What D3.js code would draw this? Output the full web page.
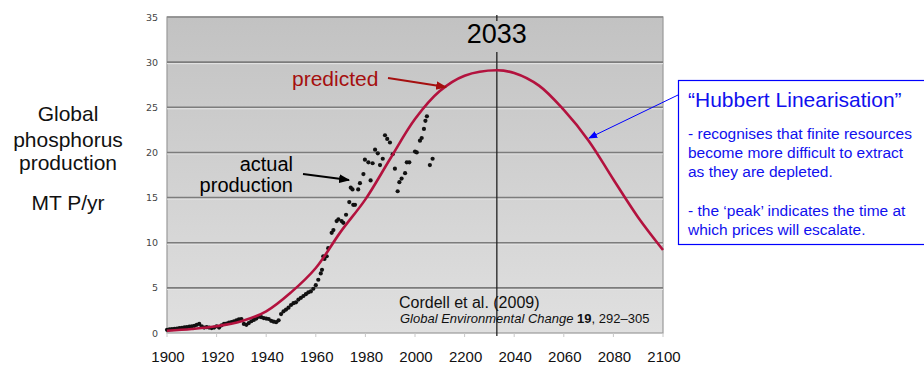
<!DOCTYPE html>
<html><head><meta charset="utf-8">
<script src="https://cdn.jsdelivr.net/npm/d3@7"></script>
<style>body{margin:0;background:#fff;} svg{display:block;font-family:"Liberation Sans",Arial,sans-serif;}</style>
</head><body>
<svg id="chart" width="924" height="365"></svg>
<script>
// ---- data ----
const curveYears  = [1900,1910,1920,1930,1940,1950,1960,1970,1980,1990,2000,2010,2020,2033,2040,2050,2060,2070,2080,2090,2100];
const curveValues = [0.25,0.45,0.75,1.3,2.4,4.5,7.2,11.2,14.8,19.3,23.7,26.8,28.5,29.1,28.8,27.4,24.7,21.3,17.0,12.8,9.2];

const prodYears = [1900,1901,1902,1903,1904,1905,1906,1907,1908,1909,1910,1911,1912,1913,1914,1915,1916,1917,1918,1919,
  1920,1921,1922,1923,1924,1925,1926,1927,1928,1929,1930,1931,1932,1933,1934,1935,1936,1937,1938,1939,
  1940,1941,1942,1943,1944,1945,1946,1947,1948,1949,1950,1951,1952,1953,1954,1955,1956,1957,1958,1959,
  1960,1961,1962,1962.5,1963,1963.5,1964.4,1965,1966.4,1967.1,1968.4,1969.1,1970.4,1971.1,1972.2,1973.5,1974.1,1974.8,1975.1,1975.8,
  1977.1,1977.8,1979.2,1979.8,1981.2,1982.1,1982.9,1983.9,1985,1985.9,1987,1987.9,1988.8,1989.9,1991,1991.9,1993,1993.7,1994.6,1996,
  1996.7,1997.7,2000,2000.7,2002,2002.7,2003.6,2004.2,2004.8,2006,2007.1];
const prodValues = [0.35,0.4,0.42,0.45,0.5,0.55,0.58,0.62,0.65,0.7,0.75,0.8,0.9,1.0,0.75,0.6,0.65,0.6,0.55,0.6,
  0.75,0.6,0.85,1.0,1.05,1.15,1.2,1.3,1.4,1.5,1.55,1.0,0.9,1.1,1.3,1.45,1.6,1.8,1.75,1.65,
  1.6,1.55,1.35,1.25,1.2,1.4,2.1,2.4,2.6,2.8,3.1,3.3,3.4,3.7,3.9,4.1,4.3,4.5,4.6,4.9,
  5.3,5.9,6.6,7.0,8.5,8.2,8.5,9.4,11.1,11.4,12.4,12.6,12.4,12.2,13.1,14.5,16.1,15.9,14.2,14.2,
  15.9,16.6,17.6,19.2,18.9,16.9,18.8,20.3,19.9,18.6,19.3,21.9,21.5,21.1,19.8,18.2,15.7,16.7,17.1,17.7,
  18.9,18.9,20.1,20.0,21.3,21.6,22.6,23.5,24.0,18.6,19.3];

const yTicks = [0,5,10,15,20,25,30,35];
const xTickLabels = ["1900","1920","1940","1960","1980","2000","2200","2040","2060","2080","2100"];
const peakYear = 2033;

// ---- layout ----
const svg = d3.select("#chart");
const x = d3.scaleLinear().domain([1900,2100]).range([167,663]);
const y = d3.scaleLinear().domain([0,35]).range([333,17]);
const xl = d3.scalePoint().domain(xTickLabels).range([168,664]);

const defs = svg.append("defs");
const grad = defs.append("linearGradient").attr("id","bg").attr("gradientUnits","userSpaceOnUse")
  .attr("x1",0).attr("y1",17).attr("x2",0).attr("y2",333);
grad.append("stop").attr("offset","0%").attr("stop-color","#c2c2c2");
grad.append("stop").attr("offset","100%").attr("stop-color","#e0e0e0");

function marker(id,color,size){
  defs.append("marker").attr("id",id).attr("viewBox","0 0 10 10").attr("refX",9).attr("refY",5)
    .attr("markerUnits","userSpaceOnUse").attr("markerWidth",size).attr("markerHeight",size)
    .attr("orient","auto").append("path").attr("d","M0,1 L10,5 L0,9 Z").attr("fill",color);
}
marker("arRed","#a50f0f",11);
marker("arBlack","#000",11);
marker("arBlue","#0000ff",9);

// plot background
svg.append("rect").attr("x",x(1900)).attr("y",y(35)).attr("width",x(2100)-x(1900)).attr("height",y(0)-y(35))
  .attr("fill","url(#bg)").attr("stroke","#9a9a9a").attr("stroke-width",1.2);

// gridlines
const g = svg.append("g");
g.selectAll("line.hl").data(yTicks.filter(d=>d>0&&d<35)).join("line").attr("class","hl")
  .attr("x1",x(1900)).attr("x2",x(2100)).attr("y1",d=>y(d)+1.5).attr("y2",d=>y(d)+1.5)
  .attr("stroke","#e6e6e6").attr("stroke-width",1);
g.selectAll("line.gl").data(yTicks.filter(d=>d>0&&d<35)).join("line").attr("class","gl")
  .attr("x1",x(1900)).attr("x2",x(2100)).attr("y1",d=>y(d)).attr("y2",d=>y(d))
  .attr("stroke","#7c7c7c").attr("stroke-width",1.6);
svg.append("line").attr("x1",x(1900)).attr("x2",x(2100)).attr("y1",y(35)).attr("y2",y(35))
  .attr("stroke","#8a8a8a").attr("stroke-width",1.5);

// y axis labels
const yAxis = d3.axisLeft(y).tickValues(yTicks).tickSize(0).tickPadding(9);
const ya = svg.append("g").attr("transform",`translate(${x(1900)},0)`).call(yAxis);
ya.select(".domain").remove();
ya.selectAll("text").attr("fill","#444").attr("font-family","'DejaVu Sans',sans-serif").attr("font-size",9.5);

// bottom small ticks
svg.selectAll("line.bt").data(d3.range(1900,2101,20)).join("line").attr("class","bt")
  .attr("x1",d=>x(d)).attr("x2",d=>x(d)).attr("y1",y(0)).attr("y2",y(0)+4)
  .attr("stroke","#c8c8c8").attr("stroke-width",1);

// x tick labels (slide text)
svg.selectAll("text.xl").data(xTickLabels).join("text").attr("class","xl")
  .attr("x",d=>xl(d)).attr("y",362).attr("text-anchor","middle").attr("font-size",15).attr("fill","#111").text(d=>d);

// 2033 vertical line
svg.append("line").attr("x1",x(peakYear)).attr("x2",x(peakYear)).attr("y1",15).attr("y2",336)
  .attr("stroke","#222").attr("stroke-width",1.3);
svg.append("rect").attr("x",x(peakYear)-36).attr("y",21).attr("width",72).attr("height",31).attr("fill","url(#bg)");
svg.append("text").attr("x",x(peakYear)).attr("y",43).attr("text-anchor","middle").attr("font-size",27)
  .attr("fill","#000").text(String(peakYear));

// actual production dots
svg.append("g").selectAll("circle").data(prodYears.map((d,i)=>[d,prodValues[i]])).join("circle")
  .attr("cx",d=>x(d[0])).attr("cy",d=>y(d[1])).attr("r",2.1).attr("fill","#111");

// predicted curve
const line = d3.line().x(d=>x(d[0])).y(d=>y(d[1])).curve(d3.curveCatmullRom.alpha(0.5));
svg.append("path").datum(curveYears.map((d,i)=>[d,curveValues[i]])).attr("d",line)
  .attr("fill","none").attr("stroke","#b3123e").attr("stroke-width",2.6);

// annotations
svg.append("text").attr("x",292).attr("y",86).attr("font-size",21).attr("fill","#a50f0f").text("predicted");
svg.append("line").attr("x1",388).attr("y1",78).attr("x2",446).attr("y2",87)
  .attr("stroke","#a50f0f").attr("stroke-width",2).attr("marker-end","url(#arRed)");

svg.append("text").attr("x",293).attr("y",171).attr("text-anchor","end").attr("font-size",20).attr("fill","#000").text("actual");
svg.append("text").attr("x",293).attr("y",192).attr("text-anchor","end").attr("font-size",20).attr("fill","#000").text("production");
svg.append("line").attr("x1",303).attr("y1",174).attr("x2",349).attr("y2",180)
  .attr("stroke","#000").attr("stroke-width",2).attr("marker-end","url(#arBlack)");

svg.append("text").attr("x",399).attr("y",308).attr("font-size",16).attr("fill","#111").text("Cordell et al. (2009)");
const cit = svg.append("text").attr("x",400).attr("y",323).attr("font-size",13).attr("fill","#111");
cit.append("tspan").attr("font-style","italic").text("Global Environmental Change ");
cit.append("tspan").attr("font-weight","bold").text("19");
cit.append("tspan").text(", 292–305");

// left y label
[["Global",121],["phosphorus",147],["production",170],["MT P/yr",210]].forEach(([t,yy])=>{
  svg.append("text").attr("x",68).attr("y",yy).attr("text-anchor","middle").attr("font-size",21).attr("fill","#111").text(t);
});

// Hubbert box
svg.append("rect").attr("x",678.5).attr("y",80.5).attr("width",270).attr("height",164)
  .attr("fill","#fff").attr("stroke","#0000ff").attr("stroke-width",1.2);
svg.append("text").attr("x",688).attr("y",107).attr("font-size",21).attr("fill","#1010ee").text("“Hubbert Linearisation”");
[["- recognises that finite resources",139],["become more difficult to extract",158],["as they are depleted.",177],
 ["- the ‘peak’ indicates the time at",216],["which prices will escalate.",235]].forEach(([t,yy])=>{
  svg.append("text").attr("x",688).attr("y",yy).attr("font-size",15.5).attr("fill","#1010ee").text(t);
});
svg.append("line").attr("x1",678).attr("y1",95).attr("x2",589).attr("y2",138)
  .attr("stroke","#0000ff").attr("stroke-width",1).attr("marker-end","url(#arBlue)");
</script>
</body></html>
